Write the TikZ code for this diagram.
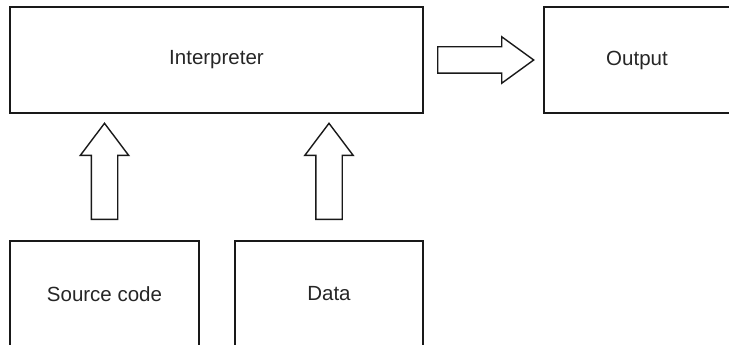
\documentclass[tikz,border=0pt]{standalone}
\usepackage{fontspec}
\setmainfont{Liberation Sans}
\usepackage{tikz}
\usetikzlibrary{calc,positioning,shapes.arrows}

\begin{document}
\begin{tikzpicture}[x=1pt, y=-1pt]
\tikzstyle{box}=[rectangle, draw=black!90, line width=2pt, inner sep=0pt,
                 text=black!85, font=\fontsize{20.5}{24}\selectfont]
\tikzstyle{fatarrow}=[single arrow, draw=black!90, fill=white, line width=1.4pt,
                      inner xsep=0pt, inner ysep=12.5pt, minimum width=0pt,
                      single arrow head extend=11pt, anchor=tail,
                      single arrow tip angle=74, minimum height=96pt]
\useasboundingbox (0,0) rectangle (729,345);
\node[box, minimum width=413pt, minimum height=106pt] (interp) at (216.5,60) {Interpreter};
\node[box, minimum width=186pt, minimum height=106pt] (out) at (637,60) {Output};
\node[box, minimum width=189pt, minimum height=106pt] (src) at (104.5,294) {Source code};
\node[box, minimum width=188pt, minimum height=106pt] (data) at (329,294) {Data};
\node[fatarrow, single arrow head extend=10pt,
      single arrow tip angle=72] (toout) at ($(interp.east)+(13,0)$) {};
\node[fatarrow, rotate=90] (fromsrc) at ($(src.north)+(0,-20)$) {};
\node[fatarrow, rotate=90] (fromdata) at ($(data.north)+(0,-20)$) {};
\end{tikzpicture}
\end{document}
